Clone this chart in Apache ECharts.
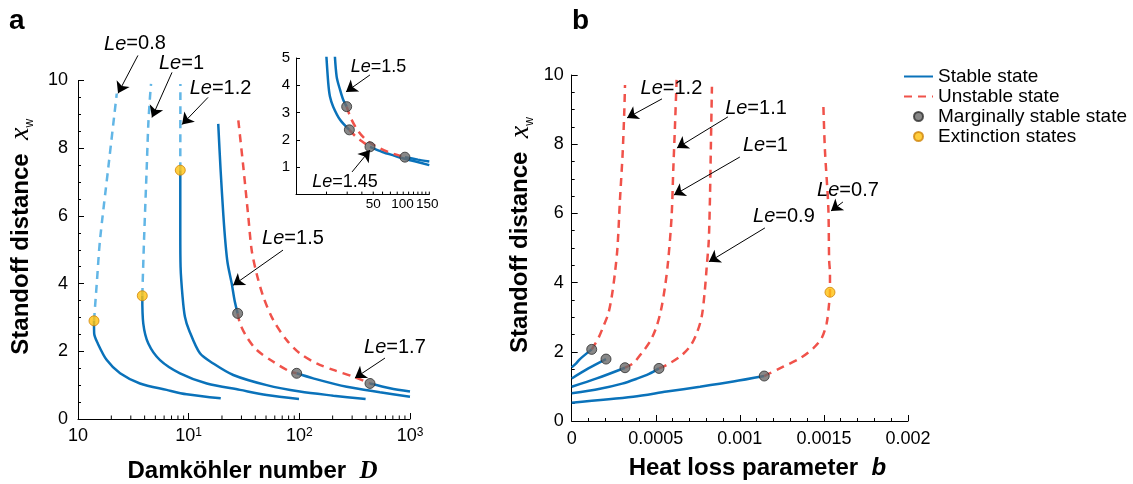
<!DOCTYPE html>
<html><head><meta charset="utf-8">
<script src="https://cdn.jsdelivr.net/npm/echarts@6/dist/echarts.min.js"></script>
<style>html,body{margin:0;padding:0;background:#fff}#c{width:1133px;height:484px}</style>
</head><body><div id="c"></div>
<script>
const FONT = '"Liberation Sans", Arial, Helvetica, sans-serif';
const SERIF = '"Liberation Serif", "Times New Roman", serif';

// ---------- Panel a : [D, x_w] ----------
const a_le08_stable = [[1.395,2.90],[1.40,2.53],[1.51,2.23],[1.82,1.74],[2.40,1.35],[3.63,1.05],[6.32,0.86],[9.59,0.73],[19.5,0.61]];
const a_le08_unphys = [[1.395,2.90],[1.485,4.10],[1.58,5.28],[1.88,7.44],[2.24,9.61]];
const a_le1_stable = [[3.81,3.64],[3.89,2.82],[4.32,2.23],[5.51,1.74],[8.35,1.35],[14.6,1.05],[29.1,0.86],[50.7,0.71],[99.3,0.59]];
const a_le1_unphys = [[3.81,3.64],[3.95,5.28],[4.18,7.44],[4.32,8.72],[4.47,9.5],[4.57,9.9]];
const a_le12_stable = [[8.40,7.35],[8.40,5.5],[8.45,4.5],[8.81,3.61],[9.25,3.02],[10.07,2.63],[12.65,1.94],[16.7,1.64],[25.3,1.30],[50.7,1.00],[101,0.81],[203,0.69],[397,0.59]];
const a_le12_unphys = [[8.40,7.35],[8.42,9.9]];
const a_le15_stable1 = [[18.5,8.72],[19.4,7.4],[20.6,6.0],[21.5,5.2],[22.5,4.6],[24.5,4.0],[26.0,3.5],[27.7,3.12]];
const a_le15_unstable = [[27.7,3.12],[29.1,2.82],[33.4,2.43],[41.2,2.04],[58.2,1.69],[82.4,1.40],[94.6,1.35]];
const a_le15_stable2 = [[94.6,1.35],[133.6,1.20],[268,0.95],[535,0.79],[1000,0.66]];
const a_le17_unstable = [[28.1,8.82],[31.2,7.44],[34.6,5.97],[37.1,4.99],[41.1,4.30],[47.3,3.61],[58.2,2.92],[76.9,2.33],[101,1.94],[143.5,1.64],[203,1.45],[307,1.25],[435,1.05]];
const a_le17_stable = [[435,1.05],[659,0.91],[1000,0.81]];
const a_marginal = [[27.7,3.12],[94.6,1.35],[435,1.05]];
const a_extinction = [[1.395,2.90],[3.81,3.64],[8.40,7.35]];
const a_minorTicks = [2,3,4,5,6,7,8,9,20,30,40,50,60,70,80,90,200,300,400,500,600,700,800,900];

// ---------- Inset : [D, x_w] ----------
const i_le15_stable1 = [[23.4,5.3],[24.4,4.32],[26.1,3.83],[27.8,3.46],[29.7,3.22]];
const i_le15_unstable = [[29.7,3.22],[32.3,2.79],[36.5,2.38],[43,2.02],[52,1.78],[68,1.55],[93,1.37]];
const i_le15_stable2 = [[93,1.37],[120,1.28],[150,1.21]];
const i_le145_stable1 = [[19.8,5.3],[20.7,4.08],[21.4,3.59],[22.8,3.22],[26.1,2.74],[31.3,2.37]];
const i_le145_unstable = [[31.3,2.37],[35,2.15],[40,1.95],[46.9,1.75]];
const i_le145_stable2 = [[46.9,1.75],[60,1.56],[75,1.43],[93,1.31],[150,1.08]];
const i_marginal = [[29.7,3.22],[31.3,2.37],[46.9,1.75],[93,1.37]];
const i_ticks = [20,30,40,50,60,70,80,90,100,110,120,130,140,150];
const i_labels = [50,100,150];

// ---------- Panel b : [b, x_w] ----------
const b_le12_stable = [[0,1.55],[0.25e-4,1.66],[0.49e-4,1.79],[1.19e-4,2.07]];
const b_le12_unstable = [[1.19e-4,2.07],[1.58e-4,2.39],[1.88e-4,2.73],[2.18e-4,3.11],[2.38e-4,3.59],[2.57e-4,4.27],[2.72e-4,5.0],[2.87e-4,6.39],[3.03e-4,7.74],[3.13e-4,8.99],[3.17e-4,9.71]];
const b_le11_stable = [[0,1.23],[0.99e-4,1.52],[2.04e-4,1.79]];
const b_le1_stable = [[0,0.99],[1.49e-4,1.23],[3.17e-4,1.54]];
const b_le1_unstable = [[3.17e-4,1.54],[3.66e-4,1.67],[4.16e-4,1.96],[4.65e-4,2.29],[5.01e-4,2.68],[5.29e-4,3.16],[5.55e-4,3.88],[5.74e-4,4.65],[5.94e-4,5.9],[6.04e-4,7.25],[6.14e-4,8.5],[6.24e-4,9.86]];
const b_le09_stable = [[0,0.80],[1.68e-4,0.93],[3.0e-4,1.08],[3.86e-4,1.22],[4.6e-4,1.36],[5.19e-4,1.52]];
const b_le09_unstable = [[5.19e-4,1.52],[5.65e-4,1.62],[6.44e-4,1.86],[7.03e-4,2.15],[7.43e-4,2.53],[7.73e-4,3.01],[7.92e-4,3.79],[8.03e-4,4.46],[8.15e-4,5.2],[8.22e-4,6.39],[8.28e-4,8.03],[8.34e-4,9.66]];
const b_le07_stable = [[0,0.53],[3.66e-4,0.70],[5.65e-4,0.85],[7.63e-4,0.99],[9.61e-4,1.14],[1.145e-3,1.30]];
const b_le07_unstable = [[1.145e-3,1.30],[1.178e-3,1.38],[1.258e-3,1.57],[1.357e-3,1.81],[1.436e-3,2.10],[1.486e-3,2.39],[1.516e-3,2.82],[1.531e-3,3.40],[1.536e-3,3.72],[1.536e-3,4.27],[1.531e-3,4.65],[1.526e-3,6.19],[1.506e-3,7.83],[1.496e-3,9.23]];
const b_marginal = [[1.19e-4,2.07],[2.04e-4,1.79],[3.17e-4,1.54],[5.19e-4,1.52],[1.145e-3,1.30]];
const b_extinction = [[1.536e-3,3.72]];

// ---------- Annotations: [Le value, label centre, arrow start, arrow tip] ----------
const ann_a = [
  ['0.8', [3.27, 11.08], [3.48, 10.74], [2.30, 9.62]],
  ['1',   [8.61, 10.50], [7.07, 10.24], [4.66, 8.91]],
  ['1.2', [19.4, 9.76],  [14.95, 9.50], [8.71, 8.70]],
  ['1.5', [87.6, 5.34],  [71.2, 4.99],  [25.2, 3.95]],
  ['1.7', [731, 2.12],   [594, 1.80],   [318, 1.21]]
];
const ann_i = [
  ['1.5',  [55.4, 4.67], [46.9, 4.38], [29.3, 3.76]],
  ['1.45', [28.7, 0.46], [33.0, 0.83], [46.9, 1.63]]
];
const ann_b = [
  ['1.2', [5.93e-4, 9.62],  [5.37e-4, 9.31],  [3.29e-4, 8.76]],
  ['1.1', [1.096e-3, 9.04], [9.29e-4, 8.79],  [6.26e-4, 7.89]],
  ['1',   [1.152e-3, 7.95], [1.0e-3, 7.63],   [6.08e-4, 6.53]],
  ['0.9', [1.262e-3, 5.92], [1.149e-3, 5.58], [8.16e-4, 4.60]],
  ['0.7', [1.643e-3, 6.65], [1.613e-3, 6.33], [1.542e-3, 6.07]]
];

const LEG = ['Stable state','Unstable state','Marginally stable state','Extinction states'];

// ---------- styles ----------
const C_STABLE = '#0A72BA', C_UNSTABLE = '#F0524A', C_UNPHYS = '#62B6E6';
const INSET_LABEL_SHIFT = [0, -6, -2];
function lineS(name, data, idx, color, dashed) {
  return {type:'line', name:name, xAxisIndex:idx, yAxisIndex:idx, data:data, symbol:'none', showSymbol:false,
    smooth:0.3, z:2, silent:true,
    lineStyle:{color:color, width:2.5, type: dashed ? [8,6] : 'solid'}, itemStyle:{color:color}};
}
function dotS(name, data, idx, fill, border) {
  return {type:'scatter', name:name, xAxisIndex:idx, yAxisIndex:idx, data:data, symbol:'circle', symbolSize:10,
    z:4, silent:true, clip:false, itemStyle:{color:fill, borderColor:border, borderWidth:1}};
}
function tickS(idx, values, len) {
  return {type:'custom', xAxisIndex:idx, yAxisIndex:idx, silent:true, z:5, data: values.map(v => [v, 0]),
    renderItem: (p, api) => {
      const c = api.coord([api.value(0), api.value(1)]);
      return {type:'line', shape:{x1:c[0], y1:c[1], x2:c[0], y2:c[1]-len}, style:{stroke:'#000', lineWidth:1}};
    }};
}
function arrowS(idx, anns) {
  return {type:'lines', coordinateSystem:'cartesian2d', xAxisIndex:idx, yAxisIndex:idx, silent:true, z:6, clip:false,
    symbol:['none','arrow'], symbolSize:11,
    lineStyle:{color:'#000', width:1, opacity:1, curveness:0},
    data: anns.map(a => ({coords:[a[2], a[3]]}))};
}
function annTextS(idx, anns, fs) {
  return {type:'custom', xAxisIndex:idx, yAxisIndex:idx, silent:true, z:7, data: anns.map(a => a[1]),
    renderItem: (p, api) => {
      const c = api.coord([api.value(0), api.value(1)]);
      return {type:'text', x:c[0], y:c[1], style:{
        text:'{i|Le}{n|=' + anns[p.dataIndex][0] + '}',
        rich:{i:{fontStyle:'italic', fontSize:fs, fontFamily:FONT, fill:'#000'},
              n:{fontSize:fs, fontFamily:FONT, fill:'#000'}},
        align:'center', verticalAlign:'middle', fill:'#000'}};
    }};
}

const axisCommon = {
  axisLine:{show:true, lineStyle:{color:'#000', width:1}},
  axisTick:{show:true, inside:true, length:6, lineStyle:{color:'#000', width:1}},
  splitLine:{show:false}
};
const yName = '{t|Standoff distance  }{x|x}{w|w}';
const yNameStyle = {padding:[0,0,0,26], rich:{
  t:{fontSize:24, fontWeight:'bold', fontFamily:FONT, color:'#000', verticalAlign:'middle', lineHeight:30},
  x:{fontSize:28, fontStyle:'italic', fontFamily:SERIF, color:'#000', verticalAlign:'middle', lineHeight:30},
  w:{fontSize:12, fontFamily:FONT, color:'#000', verticalAlign:'bottom', lineHeight:30}
}};
const noDot = {color:'rgba(0,0,0,0)', borderWidth:0, opacity:0};

const option = {
  animation:false,
  backgroundColor:'#fff',
  title:[
    {text:'a', left:4, top:2, textStyle:{fontSize:28, fontWeight:'bold', color:'#000', fontFamily:FONT}},
    {text:'b', left:567, top:2, textStyle:{fontSize:28, fontWeight:'bold', color:'#000', fontFamily:FONT}}
  ],
  legend:{orient:'vertical', left:898, top:62, itemWidth:29, itemHeight:9, itemGap:1, selectedMode:false,
    data:[{name:LEG[0], itemStyle:noDot}, {name:LEG[1], itemStyle:noDot}, {name:LEG[2]}, {name:LEG[3]}],
    textStyle:{fontSize:19, color:'#000', fontFamily:FONT}},
  grid:[
    {left:78, top:80.5, width:332, height:338.5, outerBoundsMode:'none'},
    {left:296, top:58, width:133.3, height:136.6, outerBoundsMode:'none'},
    {left:571.7, top:75, width:336.3, height:346, outerBoundsMode:'none'}
  ],
  xAxis:[
    Object.assign({}, axisCommon, {gridIndex:0, type:'log', logBase:10, min:1, max:1000,
      axisLabel:{color:'#000', margin:8,
        formatter: v => { const e = Math.round(Math.log10(v)); return e === 0 ? '{b|10}' : '{b|10}{s|' + e + '}'; },
        rich:{b:{fontSize:18, fontFamily:FONT, color:'#000', verticalAlign:'bottom'},
              s:{fontSize:12, fontFamily:FONT, color:'#000', verticalAlign:'top'}}},
      name:'{t|Damköhler number  }{d|D}', nameLocation:'middle', nameGap:40,
      nameTextStyle:{padding:[0,0,0,17], rich:{
        t:{fontSize:24, fontWeight:'bold', fontFamily:FONT, color:'#000'},
        d:{fontSize:25, fontWeight:'bold', fontStyle:'italic', fontFamily:SERIF, color:'#000'}}}}),
    Object.assign({}, axisCommon, {gridIndex:1, type:'log', logBase:10, min:11, max:150,
      axisTick:{show:false}, axisLabel:{show:false}}),
    Object.assign({}, axisCommon, {gridIndex:2, type:'value', min:0, max:0.002, interval:0.0005,
      minorTick:{show:true, splitNumber:5, length:3, lineStyle:{color:'#000', width:1}},
      axisLabel:{color:'#000', fontSize:18, fontFamily:FONT, margin:9,
        formatter: v => String(Number(v.toFixed(5)))},
      name:'{t|Heat loss parameter  }{b|b}', nameLocation:'middle', nameGap:35,
      nameTextStyle:{padding:[0,0,0,35], rich:{
        t:{fontSize:24, fontWeight:'bold', fontFamily:FONT, color:'#000'},
        b:{fontSize:24, fontWeight:'bold', fontStyle:'italic', fontFamily:FONT, color:'#000'}}}})
  ],
  yAxis:[
    Object.assign({}, axisCommon, {gridIndex:0, type:'value', min:0, max:10, interval:2,
      minorTick:{show:true, splitNumber:4, length:3, lineStyle:{color:'#000', width:1}},
      axisLabel:{color:'#000', fontSize:18, fontFamily:FONT, margin:10},
      name:yName, nameLocation:'middle', nameGap:42, nameRotate:90, nameTextStyle:yNameStyle}),
    Object.assign({}, axisCommon, {gridIndex:1, type:'value', min:0, max:5, interval:1,
      axisTick:{show:true, inside:true, length:4, lineStyle:{color:'#000', width:1}},
      axisLabel:{color:'#000', fontSize:15, fontFamily:FONT, margin:6, formatter: v => v === 0 ? '' : String(v)}}),
    Object.assign({}, axisCommon, {gridIndex:2, type:'value', min:0, max:10, interval:2,
      minorTick:{show:true, splitNumber:4, length:3, lineStyle:{color:'#000', width:1}},
      axisLabel:{color:'#000', fontSize:18, fontFamily:FONT, margin:8},
      name:yName, nameLocation:'middle', nameGap:36, nameRotate:90, nameTextStyle:yNameStyle})
  ],
  series:[
    // panel a
    lineS('Stable state', a_le08_stable, 0, C_STABLE, false),
    lineS('Unstable state', a_le15_unstable, 0, C_UNSTABLE, true),
    lineS('Stable state', a_le1_stable, 0, C_STABLE, false),
    lineS('Stable state', a_le12_stable, 0, C_STABLE, false),
    lineS('Stable state', a_le15_stable1, 0, C_STABLE, false),
    lineS('Stable state', a_le15_stable2, 0, C_STABLE, false),
    lineS('Stable state', a_le17_stable, 0, C_STABLE, false),
    lineS('Unstable state', a_le17_unstable, 0, C_UNSTABLE, true),
    lineS('unphysical', a_le08_unphys, 0, C_UNPHYS, true),
    lineS('unphysical', a_le1_unphys, 0, C_UNPHYS, true),
    lineS('unphysical', a_le12_unphys, 0, C_UNPHYS, true),
    dotS('Marginally stable state', a_marginal, 0, '#6A6A6A', '#2E2E2E'),
    dotS('Extinction states', a_extinction, 0, '#FFC20E', '#D0840A'),
    tickS(0, a_minorTicks, 3.5),
    arrowS(0, ann_a), annTextS(0, ann_a, 20),
    // inset
    lineS('Stable state', i_le15_stable1, 1, C_STABLE, false),
    lineS('Stable state', i_le15_stable2, 1, C_STABLE, false),
    lineS('Stable state', i_le145_stable1, 1, C_STABLE, false),
    lineS('Stable state', i_le145_stable2, 1, C_STABLE, false),
    lineS('Unstable state', i_le15_unstable, 1, C_UNSTABLE, true),
    lineS('Unstable state', i_le145_unstable, 1, C_UNSTABLE, true),
    dotS('Marginally stable state', i_marginal, 1, '#6A6A6A', '#2E2E2E'),
    tickS(1, i_ticks, 3),
    {type:'custom', xAxisIndex:1, yAxisIndex:1, silent:true, z:5, data:i_labels.map(v => [v, 0]),
      renderItem:(p, api) => {
        const c = api.coord([api.value(0), 0]);
        return {type:'text', x: c[0] + INSET_LABEL_SHIFT[p.dataIndex], y:c[1] + 3, style:{text:String(i_labels[p.dataIndex]), fontSize:13.5,
          fontFamily:FONT, fill:'#000', align:'center', verticalAlign:'top'}};
      }},
    arrowS(1, ann_i), annTextS(1, ann_i, 18),
    // panel b
    lineS('Stable state', b_le12_stable, 2, C_STABLE, false),
    lineS('Stable state', b_le11_stable, 2, C_STABLE, false),
    lineS('Stable state', b_le1_stable, 2, C_STABLE, false),
    lineS('Stable state', b_le09_stable, 2, C_STABLE, false),
    lineS('Stable state', b_le07_stable, 2, C_STABLE, false),
    lineS('Unstable state', b_le12_unstable, 2, C_UNSTABLE, true),
    lineS('Unstable state', b_le1_unstable, 2, C_UNSTABLE, true),
    lineS('Unstable state', b_le09_unstable, 2, C_UNSTABLE, true),
    lineS('Unstable state', b_le07_unstable, 2, C_UNSTABLE, true),
    dotS('Marginally stable state', b_marginal, 2, '#6A6A6A', '#2E2E2E'),
    dotS('Extinction states', b_extinction, 2, '#FFC20E', '#D0840A'),
    arrowS(2, ann_b), annTextS(2, ann_b, 20)
  ]
};
const chart = echarts.init(document.getElementById('c'), null, {renderer:'canvas'});
chart.setOption(option);
</script>
</body></html>
